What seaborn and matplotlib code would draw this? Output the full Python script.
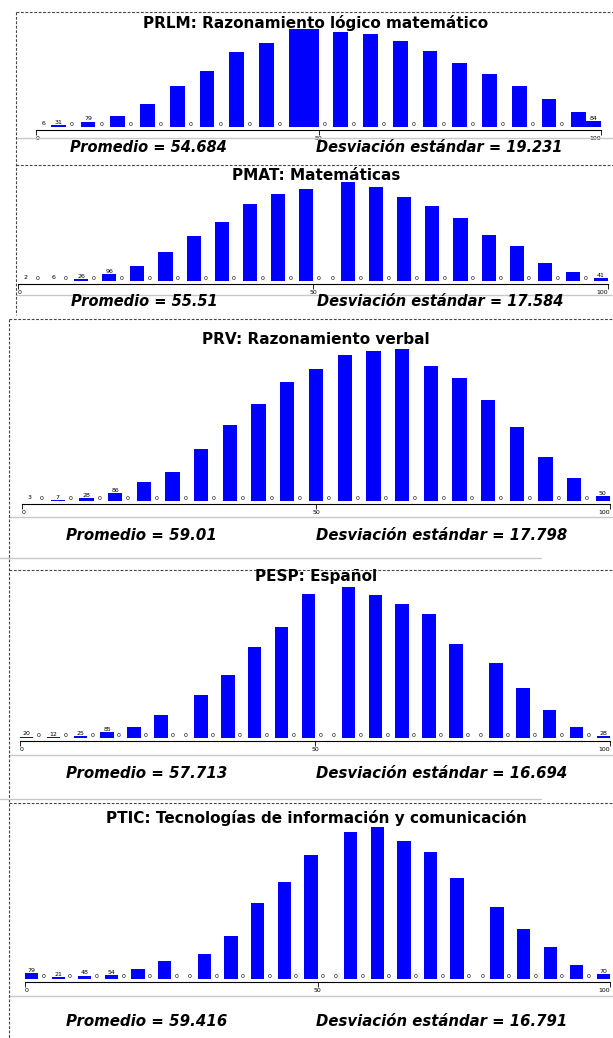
import numpy as np
import pandas as pd
import seaborn as sns
import matplotlib
matplotlib.use("Agg")
import matplotlib.pyplot as plt
from matplotlib.lines import Line2D

# conteos por intervalo (lectura aproximada de la figura)
prlm_counts = [6, 31, 0, 79, 0, 165, 0, 345, 0, 610, 0, 840, 0, 1120, 0, 1245, 0, 1460, 1460, 0,
               1415, 0, 1390, 0, 1275, 0, 1130, 0, 960, 0, 785, 0, 610, 0, 415, 0, 230, 84]
pmat_counts = [2, 0, 6, 0, 26, 0, 96, 0, 216, 0, 413, 0, 643, 0, 854, 0, 1109, 0, 1253, 0, 1320,
               0, 0, 1421, 0, 1344, 0, 1205, 0, 1080, 0, 907, 0, 662, 0, 499, 0, 254, 0, 134, 0, 41]
prv_counts = [3, 0, 7, 0, 28, 0, 86, 0, 209, 0, 310, 0, 558, 0, 824, 0, 1055, 0, 1285, 0, 1433,
              0, 1584, 0, 1620, 0, 1645, 0, 1465, 0, 1332, 0, 1098, 0, 806, 0, 472, 0, 252, 0, 50]
pesp_counts = [20, 0, 12, 0, 25, 0, 85, 0, 155, 0, 329, 0, 0, 611, 0, 893, 0, 1293, 0, 1570, 0,
               2040, 0, 0, 2139, 0, 2030, 0, 1894, 0, 1763, 0, 1325, 0, 0, 1058, 0, 705, 0, 400,
               0, 155, 0, 28]
ptic_counts = [79, 0, 21, 0, 48, 0, 54, 0, 143, 0, 244, 0, 0, 350, 0, 589, 0, 1049, 0, 1343, 0,
               1716, 0, 0, 2029, 0, 2098, 0, 1900, 0, 1757, 0, 1398, 0, 0, 994, 0, 690, 0, 446,
               0, 198, 0, 70]

titles = ["PRLM: Razonamiento lógico matemático", "PMAT: Matemáticas",
          "PRV: Razonamiento verbal", "PESP: Español",
          "PTIC: Tecnologías de información y comunicación"]
promedios = ["54.684", "55.51", "59.01", "57.713", "59.416"]
desviaciones = ["19.231", "17.584", "17.798", "16.694", "16.791"]
tick_vals = [0, 50, 100]
tick_labels = ["0", "50", "100"]

all_counts = [prlm_counts, pmat_counts, prv_counts, pesp_counts, ptic_counts]

W, H = 613, 1038
sns.set_theme(style="white")
plt.rcParams["font.family"] = ["DejaVu Sans"]
plt.rcParams["text.color"] = "black"

fig = plt.figure(figsize=(W / 100, H / 100), dpi=100)


def fx(x):
    return x / W


def fy(y):
    return 1 - y / H


# posicion de cada panel en pixeles: x0, x100, tope, base barras, eje, titulo, stats
layout = [
    dict(x0=36, x1=601, top=29, base=127, axis=130, ty=23, sy=147, sx=(70, 316), gray=(16, 138),
         ps=10.5, ds=10.5),
    dict(x0=18, x1=608, top=182, base=281, axis=284, ty=175, sy=302, sx=(71, 317), gray=(16, 295),
         ps=10.5, ds=10.5),
    dict(x0=22, x1=610, top=349, base=501, axis=504, ty=339, sy=536, sx=(66, 316), gray=(9, 517),
         ps=10.8, ds=10.7),
    dict(x0=20, x1=610, top=587, base=738, axis=741, ty=577, sy=773, sx=(66, 316), gray=(9, 755),
         ps=10.8, ds=10.7),
    dict(x0=25, x1=610, top=827, base=979, axis=982, ty=818, sy=1022, sx=(66, 316), gray=(9, 996),
         ps=10.8, ds=10.7),
]

for counts, lay, title, prom, desv in zip(all_counts, layout, titles, promedios, desviaciones):
    counts = np.array(counts)
    n = len(counts)
    edges = np.linspace(0, 100, n + 1)
    centers = (edges[:-1] + edges[1:]) / 2
    width = edges[1] - edges[0]
    df = pd.DataFrame({"score": centers, "n": counts})

    ax = fig.add_axes([fx(lay["x0"]), fy(lay["axis"]),
                       fx(lay["x1"]) - fx(lay["x0"]), (lay["axis"] - lay["top"]) / H])
    sns.histplot(data=df, x="score", weights="n", bins=edges.tolist(), ax=ax, color="#0000ff",
                 alpha=1, edgecolor="none", linewidth=0)
    for p in list(ax.patches):
        if p.get_height() == 0:
            p.remove()

    m = counts.max()
    frac = (lay["axis"] - lay["base"]) / (lay["axis"] - lay["top"])
    ax.set_ylim(-frac * m / (1 - frac), m)
    ax.set_xlim(0, 100)

    for i, c in enumerate(counts):
        if c == 0:
            ax.annotate("0", (edges[i] + 0.38 * width, 0), xytext=(0, 0), textcoords="offset points",
                        ha="center", va="bottom", fontsize=4.5)
        elif c < 100:
            ax.annotate(str(c), (centers[i], c), xytext=(0, 0.3), textcoords="offset points",
                        ha="center", va="bottom", fontsize=4.5)

    ax.set_xticks(tick_vals)
    ax.set_xticklabels(tick_labels)
    for lbl, ha in zip(ax.get_xticklabels(), ["left", "center", "right"]):
        lbl.set_ha(ha)
    ax.set_yticks([])
    ax.set_xlabel("")
    ax.set_ylabel("")
    ax.tick_params(axis="x", bottom=True, direction="out", length=3.5, width=0.6, pad=1,
                   labelsize=4.5, colors="black")
    sns.despine(ax=ax, left=True)
    ax.spines["bottom"].set_color("black")
    ax.spines["bottom"].set_linewidth(0.8)
    ax.patch.set_alpha(0)

    fig.text(fx(316), fy(lay["ty"]), title, ha="center", va="center", fontsize=11,
             fontweight="bold")
    fig.text(fx(lay["sx"][0]), fy(lay["sy"]), "Promedio = " + prom, ha="left", va="center",
             fontsize=lay["ps"], fontweight="bold", fontstyle="italic")
    fig.text(fx(lay["sx"][1]), fy(lay["sy"]), "Desviación estándar = " + desv, ha="left",
             va="center", fontsize=lay["ds"], fontweight="bold", fontstyle="italic")

    gx, gy = lay["gray"]
    fig.add_artist(Line2D([fx(gx), 1], [fy(gy), fy(gy)], color="#c8c8c8", lw=1))

# bordes punteados de los recuadros
dash = dict(color="#444444", lw=0.8, ls=(0, (2.5, 1.5)))
fig.add_artist(Line2D([fx(15.6), fx(15.6)], [fy(12), fy(315)], **dash))
for y in [12, 165]:
    fig.add_artist(Line2D([fx(15.6), 1], [fy(y), fy(y)], **dash))
fig.add_artist(Line2D([fx(8.6), fx(8.6)], [fy(319), 0], **dash))
for y in [319, 570, 803]:
    fig.add_artist(Line2D([fx(8.6), 1], [fy(y), fy(y)], **dash))
for y in [558, 799]:
    fig.add_artist(Line2D([0, fx(541)], [fy(y), fy(y)], color="#c8c8c8", lw=1))

fig.savefig("out.png", dpi=100, facecolor="white")
